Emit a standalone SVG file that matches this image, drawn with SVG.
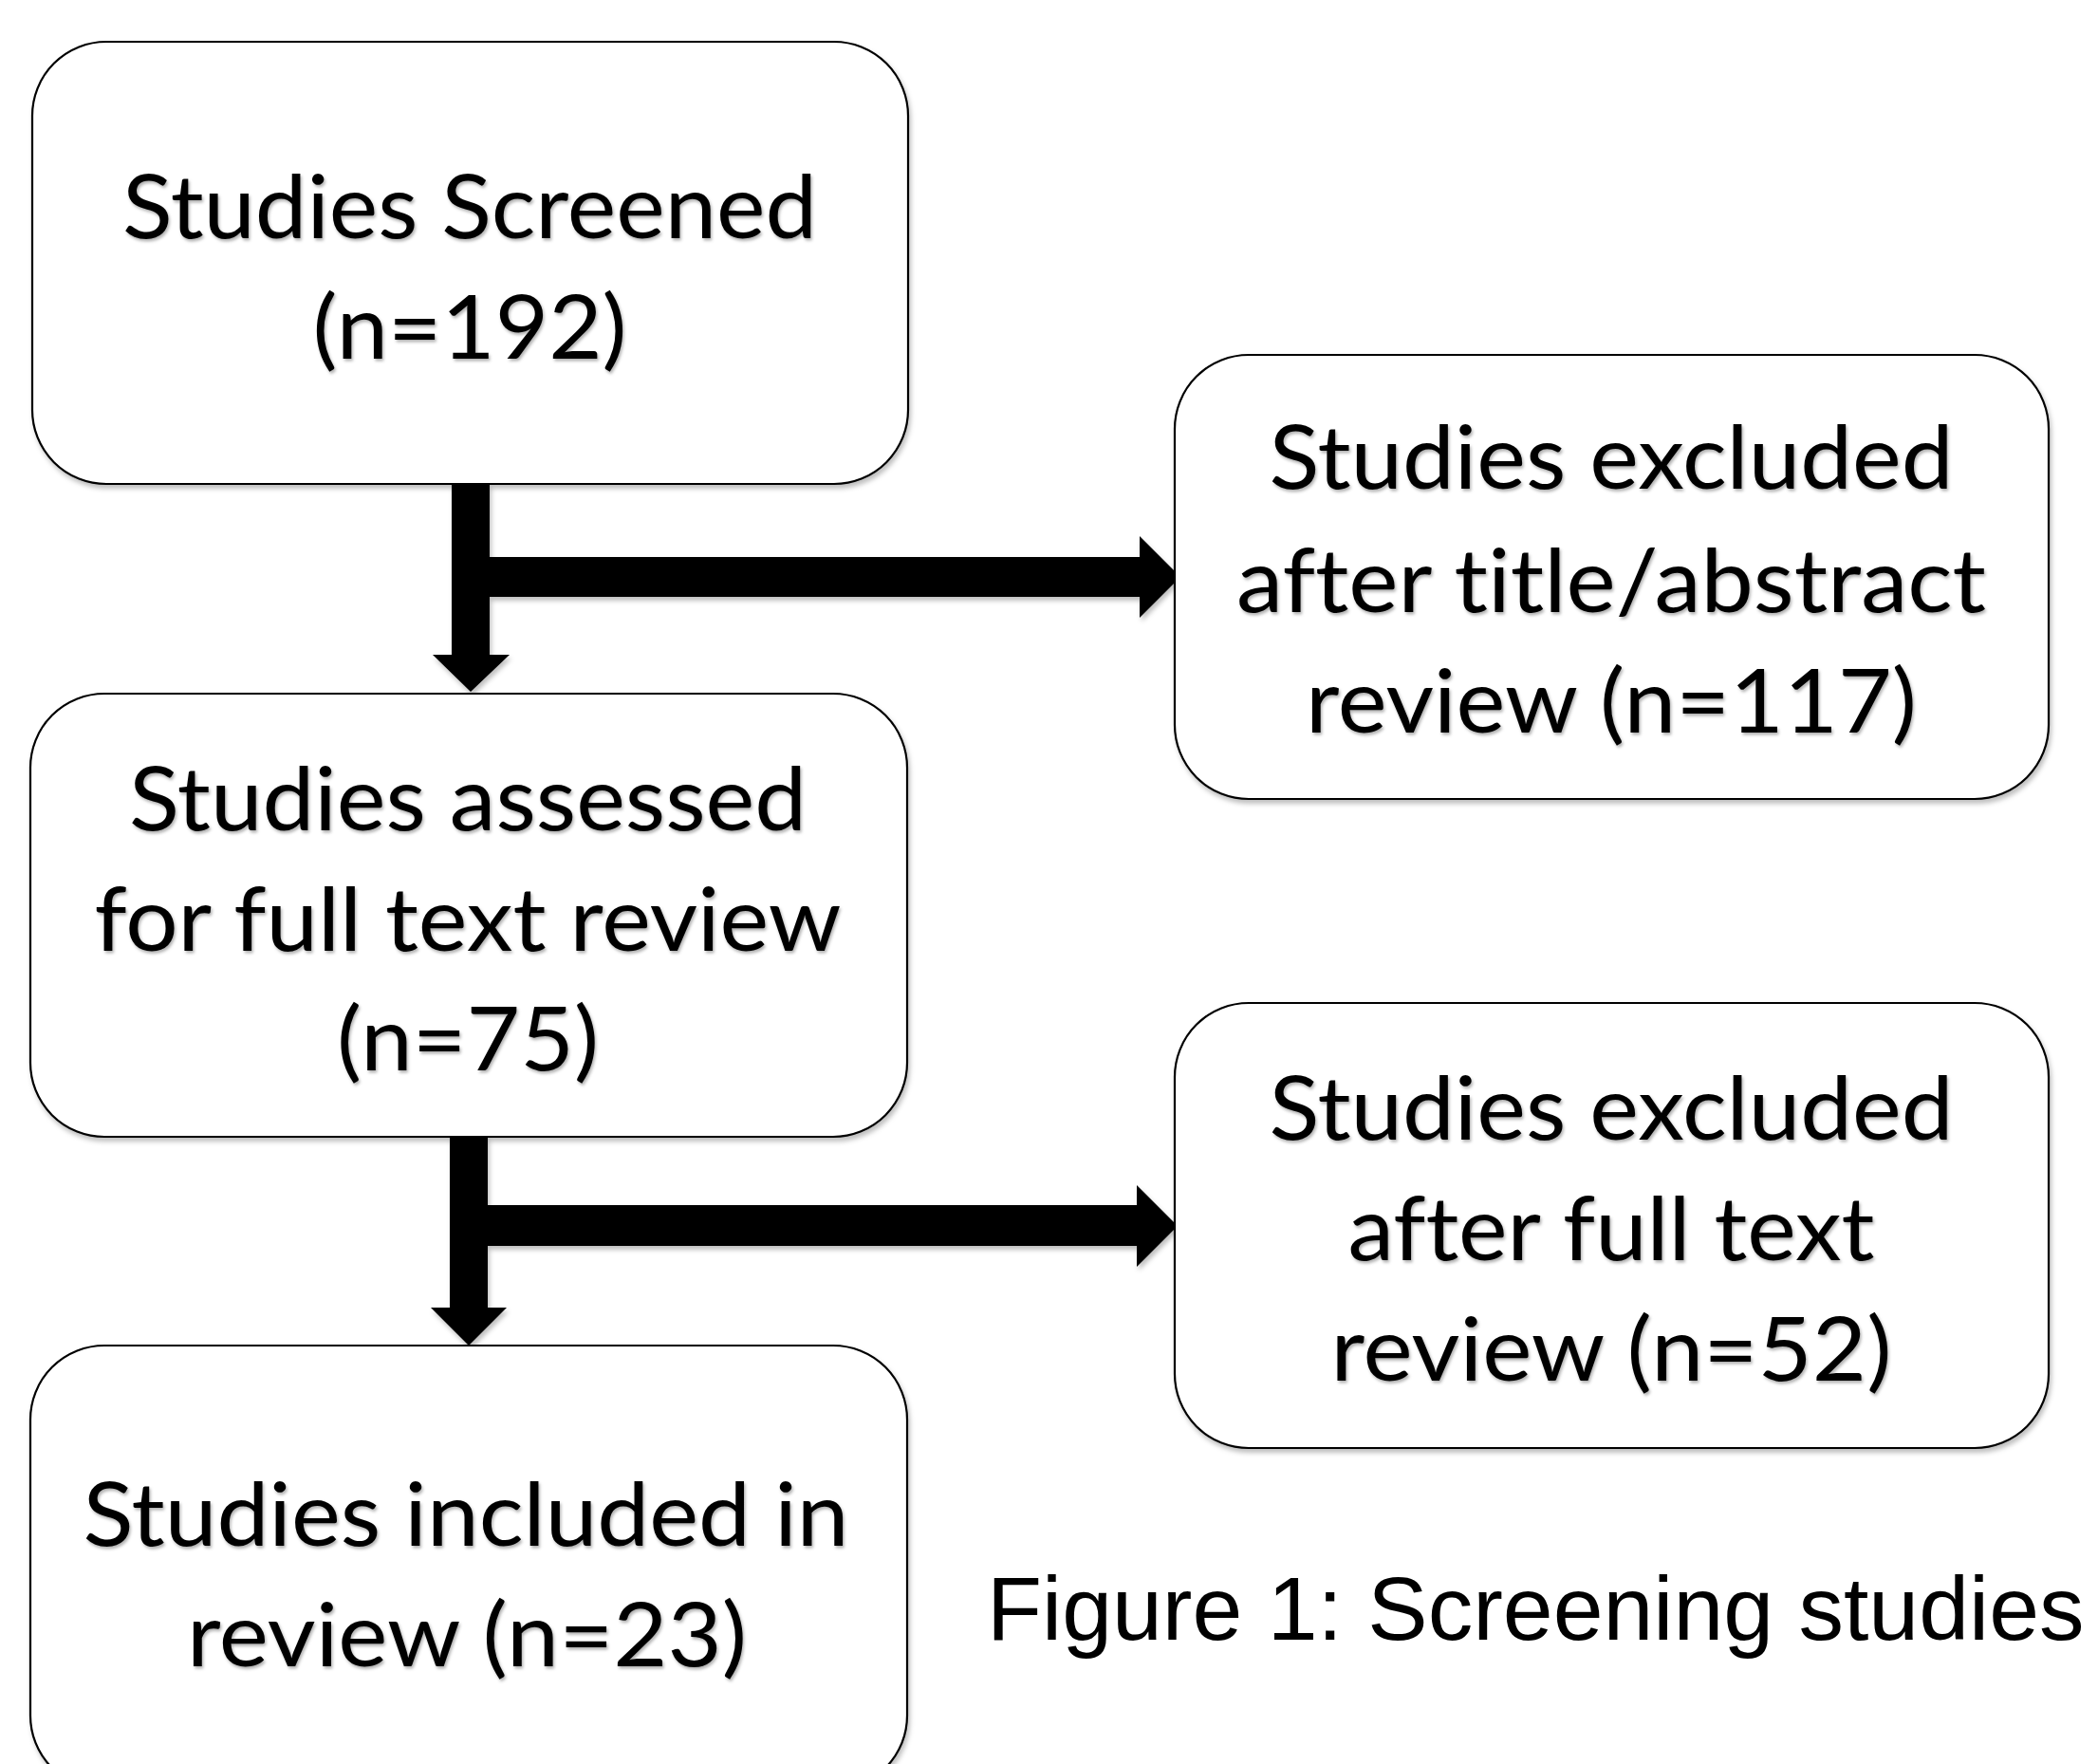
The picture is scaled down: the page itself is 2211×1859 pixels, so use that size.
<svg xmlns="http://www.w3.org/2000/svg" width="2211" height="1859" viewBox="0 0 2211 1859">
<style>
.box{fill:#fff;stroke:#000;stroke-width:2.2;filter:url(#sh)}
.t{font-family:Lato,"Open Sans","Liberation Sans",sans-serif;font-size:93px;fill:#000;text-anchor:middle;filter:url(#tsh);font-variant-ligatures:none;font-feature-settings:"liga" 0,"clig" 0}
.arrow{fill:#000;filter:url(#sh)}
.cap{font-family:"Liberation Sans",Arial,sans-serif;font-size:95px;fill:#000}
</style>
<defs>
<filter id="sh" x="-5%" y="-5%" width="110%" height="115%">
<feDropShadow dx="2" dy="4" stdDeviation="2.5" flood-color="#000" flood-opacity="0.25"/>
</filter>
<filter id="tsh" x="-5%" y="-10%" width="110%" height="130%">
<feDropShadow dx="1.5" dy="2.5" stdDeviation="1.5" flood-color="#000" flood-opacity="0.3"/>
</filter>
</defs>
<rect width="2211" height="1859" fill="#fff"/>
<g id="connectors">
<path class="arrow" d="M476,510 H516 V587 H1201 V565 L1244,608 L1201,651 V629 H516 V690 H537 L496,729 L456,690 H476 Z"/>
<path class="arrow" d="M474,1198 H514 V1270 H1198 V1249 L1241,1292 L1198,1335 V1313 H514 V1378 H534 L494,1418 L454,1378 H474 Z"/>
</g>
<g id="screened">
<rect class="box" x="34" y="44" width="923" height="466" rx="78" ry="78"/>
<text class="t" x="495" y="251" textLength="732" lengthAdjust="spacingAndGlyphs">Studies Screened</text>
<text class="t" x="495" y="378" textLength="331" lengthAdjust="spacingAndGlyphs">(n=192)</text>
</g>
<g id="excluded-title">
<rect class="box" x="1238" y="374" width="921" height="468" rx="78" ry="78"/>
<text class="t" x="1698" y="515" textLength="721" lengthAdjust="spacingAndGlyphs">Studies excluded</text>
<text class="t" x="1698" y="645" textLength="790" lengthAdjust="spacingAndGlyphs">after title/abstract</text>
<text class="t" x="1698" y="772" textLength="644" lengthAdjust="spacingAndGlyphs">review (n=117)</text>
</g>
<g id="assessed">
<rect class="box" x="32" y="731" width="924" height="467" rx="78" ry="78"/>
<text class="t" x="493" y="875" textLength="714" lengthAdjust="spacingAndGlyphs">Studies assessed</text>
<text class="t" x="493" y="1002" textLength="787" lengthAdjust="spacingAndGlyphs">for full text review</text>
<text class="t" x="493" y="1128" textLength="276" lengthAdjust="spacingAndGlyphs">(n=75)</text>
</g>
<g id="excluded-full">
<rect class="box" x="1238" y="1057" width="921" height="469" rx="78" ry="78"/>
<text class="t" x="1698" y="1201" textLength="721" lengthAdjust="spacingAndGlyphs">Studies excluded</text>
<text class="t" x="1698" y="1328" textLength="555" lengthAdjust="spacingAndGlyphs">after full text</text>
<text class="t" x="1698" y="1455" textLength="591" lengthAdjust="spacingAndGlyphs">review (n=52)</text>
</g>
<g id="included">
<rect class="box" x="32" y="1418" width="924" height="468" rx="78" ry="78"/>
<text class="t" x="491" y="1629" textLength="807" lengthAdjust="spacingAndGlyphs">Studies included in</text>
<text class="t" x="492" y="1756" textLength="590" lengthAdjust="spacingAndGlyphs">review (n=23)</text>
</g>
<g id="caption">
<text class="cap" x="1040" y="1728">Figure 1: Screening studies</text>
</g>
</svg>
